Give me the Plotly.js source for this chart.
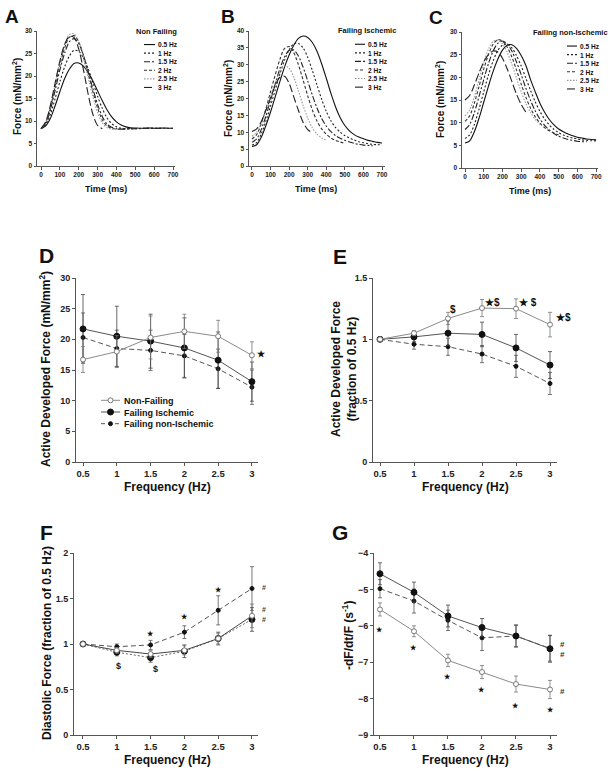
<!DOCTYPE html>
<html><head><meta charset="utf-8">
<script src="https://cdn.plot.ly/plotly-3.0.1.min.js"></script>
<style>html,body{margin:0;padding:0;background:#fff}#chart{width:615px;height:771px}</style>
</head><body><div id="chart"></div>
<script>
// ---------- data ----------
const TIME = [0,25,50,75,100,125,150,175,200,225,250,275,300,325,350,375,400,425,450,475,500,525,550,575,600,625,650,675,700];
const FREQ_LABELS = ['0.5 Hz','1 Hz','1.5 Hz','2 Hz','2.5 Hz','3 Hz'];

// Panel A: Non Failing force traces (mN/mm2)
const A_05 = [8.3,8.9,10.6,13.4,16.5,19.4,21.5,22.8,22.9,22.2,20.8,18.9,16.7,14.5,12.5,10.9,9.8,9.1,8.7,8.5,8.45,8.4,8.4,8.45,8.4,8.4,8.45,8.4,8.4];
const A_1  = [8.3,9.1,11.5,15.0,18.7,22.0,24.4,25.7,25.5,24.0,21.6,18.6,15.5,12.8,10.7,9.4,8.7,8.4,8.3,8.3,8.3,8.35,8.4,8.4,8.4,8.4,8.4,8.4,8.4];
const A_15 = [8.3,9.4,12.5,16.8,21.3,25.0,27.6,28.3,27.2,24.6,21.0,17.2,13.7,11.0,9.3,8.6,8.3,8.2,8.2,8.3,8.3,8.3,8.4,8.4,8.4,8.4,8.4];
const A_2  = [8.3,9.6,13.0,17.6,22.3,26.2,28.6,29.0,27.6,24.6,20.6,16.5,12.9,10.3,8.9,8.4,8.2,8.2,8.3,8.3,8.35];
const A_25 = [8.3,9.8,13.4,18.2,23.0,27.0,29.2,29.4,27.6,24.0,19.6,15.4,11.9,9.6,8.5,8.2,8.3];
const A_3  = [8.3,9.8,13.5,18.5,23.3,27.0,28.8,28.6,26.0,21.4,16.0,11.5,9.0,8.3];

// Panel B: Failing Ischemic
const B_05 = [5.8,6.3,8.5,12.0,16.0,20.5,25.0,29.3,32.9,35.8,37.8,38.5,38.1,36.6,34.0,30.3,26.0,21.5,17.5,14.3,12.0,10.4,9.3,8.6,8.1,7.6,7.3,7.0,6.8];
const B_1  = [6.2,6.9,9.5,13.3,17.8,22.5,27.2,31.3,34.4,36.2,36.3,35.0,32.2,28.3,24.0,19.8,16.2,13.4,11.4,10.0,9.0,8.3,7.7,7.2,6.9,6.6,6.4,6.3,6.3];
const B_15 = [7.0,8.0,10.8,14.8,19.5,24.3,28.8,32.3,34.3,34.4,32.6,29.3,25.2,21.0,17.2,14.1,11.8,10.2,9.0,8.2,7.6,7.1,6.7,6.4,6.2,6.1,6.0];
const B_2  = [8.0,9.3,12.5,17.0,22.0,27.0,31.5,34.8,35.4,33.6,30.0,25.5,20.8,16.6,13.3,11.0,9.4,8.3,7.6,7.1,6.7];
const B_25 = [8.8,10.0,12.8,16.5,20.5,24.5,27.8,29.7,29.0,26.3,22.3,18.0,14.2,11.3,9.5,8.3,7.6];
const B_3  = [10.2,11.0,13.2,16.5,20.2,23.8,26.3,26.6,24.5,20.5,16.5,13.0,10.8,9.8];

// Panel C: Failing non-Ischemic
const C_05 = [5.5,6.0,8.0,11.0,14.5,18.0,21.3,24.0,26.0,27.1,27.2,26.4,24.8,22.6,19.5,16.8,14.3,12.3,10.7,9.5,8.6,8.0,7.5,7.1,6.8,6.6,6.4,6.3,6.2];
const C_1  = [6.5,7.3,9.6,13.0,16.8,20.5,23.6,25.9,27.1,27.3,26.5,24.8,22.5,19.8,17.1,14.6,12.5,10.8,9.5,8.5,7.8,7.3,6.9,6.6,6.4,6.2,6.1,6.0,6.0];
const C_15 = [8.5,9.6,12.2,15.8,19.5,23.0,25.8,27.5,28.0,27.4,25.8,23.4,20.6,17.6,14.9,12.6,10.8,9.4,8.4,7.6,7.0,6.6,6.3,6.1,5.9,5.8,5.8];
const C_2  = [10.3,11.5,14.3,18.0,21.8,25.0,27.3,28.3,28.0,26.7,24.5,21.6,18.5,15.6,13.2,11.3,9.9,8.9,8.2,7.7,7.3];
const C_25 = [11.5,12.8,15.7,19.5,23.2,26.2,27.9,28.2,27.4,25.6,22.9,19.8,16.8,14.2,12.2,10.7,9.6];
const C_3  = [15.0,16.0,18.3,21.0,23.4,25.0,25.8,25.6,24.2,21.9,19.1,16.3,14.0,12.3];

// Frequency panels
const FREQ = [0.5,1,1.5,2,2.5,3];
const FREQ_TICKS = ['0.5','1','1.5','2','2.5','3'];
const GROUPS = ['Non-Failing','Failing Ischemic','Failing non-Ischemic'];

// D: Active developed force (mN/mm2)
const D_NF = [16.7,18.0,20.3,21.3,20.5,17.4];
const D_NF_ERR = [2.1,2.6,3.5,2.8,2.6,2.2];
const D_FI = [21.7,20.5,19.7,18.6,16.6,13.1];
const D_FI_ERR = [5.6,4.9,4.4,4.9,4.6,3.2];
const D_FNI = [20.3,18.5,18.2,17.3,15.2,12.2];
const D_FNI_ERR = [4.0,3.0,3.3,3.5,3.2,2.8];

// E: Active developed force (fraction of 0.5 Hz)
const E_NF = [1.0,1.05,1.17,1.255,1.25,1.12];
const E_NF_ERR = [0,0.02,0.05,0.07,0.08,0.1];
const E_FI = [1.0,1.02,1.05,1.04,0.93,0.79];
const E_FI_ERR = [0,0.04,0.1,0.1,0.11,0.11];
const E_FNI = [1.0,0.96,0.94,0.88,0.78,0.64];
const E_FNI_ERR = [0,0.04,0.07,0.07,0.09,0.09];

// F: Diastolic force (fraction of 0.5 Hz)
const F_NF = [1.0,0.93,0.89,0.93,1.06,1.31];
const F_NF_ERR = [0,0.03,0.04,0.05,0.06,0.13];
const F_FI = [1.0,0.91,0.85,0.92,1.06,1.27];
const F_FI_ERR = [0,0.04,0.05,0.07,0.07,0.13];
const F_FNI = [1.0,0.97,0.99,1.13,1.37,1.61];
const F_FNI_ERR = [0,0.03,0.05,0.07,0.16,0.24];

// G: -dF/dt/F (s^-1)
const G_NF = [-5.55,-6.15,-6.95,-7.27,-7.6,-7.75];
const G_NF_ERR = [0.18,0.15,0.17,0.18,0.22,0.25];
const G_FI = [-4.57,-5.08,-5.73,-6.05,-6.28,-6.63];
const G_FI_ERR = [0.3,0.28,0.3,0.25,0.3,0.37];
const G_FNI = [-4.98,-5.32,-5.85,-6.33,-6.28,-6.62];
const G_FNI_ERR = [0.25,0.33,0.28,0.35,0.3,0.35];

// ---------- styling ----------
const FONT = 'Liberation Sans, Arial, Helvetica, sans-serif';
const W = 615, H = 771;
const px = v => v / W;
const py = v => 1 - v / H;

const TRACE_STYLE = [
  {color:'#111', dash:'solid'},
  {color:'#222', dash:'2px,2px'},
  {color:'#222', dash:'6px,2px,2px,2px'},
  {color:'#333', dash:'3px,2px'},
  {color:'#999', dash:'1.5px,1.5px'},
  {color:'#222', dash:'8px,3px'}
];

const traces = [];
function addForcePanel(sets, k) {
  sets.forEach((vals, i) => {
    traces.push({
      x: TIME.slice(0, vals.length), y: vals, mode:'lines', name: FREQ_LABELS[i],
      line:{shape:'spline', smoothing:0.8, width:1.1, color:TRACE_STYLE[i].color, dash:TRACE_STYLE[i].dash},
      xaxis:'x'+(k===1?'':k), yaxis:'y'+(k===1?'':k), hoverinfo:'skip'
    });
  });
}
addForcePanel([A_05,A_1,A_15,A_2,A_25,A_3], 1);
addForcePanel([B_05,B_1,B_15,B_2,B_25,B_3], 2);
addForcePanel([C_05,C_1,C_15,C_2,C_25,C_3], 3);

function grp(y, err, k, style) {
  traces.push({
    x: FREQ, y: y, mode:'lines+markers', xaxis:'x'+k, yaxis:'y'+k, hoverinfo:'skip',
    error_y:{type:'data', array:err, visible:true, thickness:0.8, width:2, color:style.ecolor||'#666'},
    line:{color:style.lcolor, width:1, dash:style.dash||'solid'},
    marker:{symbol:style.symbol, size:style.size, color:style.mcolor, line:{color:style.mline||style.mcolor, width:1}}
  });
}
const S_NF  = {lcolor:'#8a8a8a', symbol:'circle', size:5, mcolor:'#ffffff', mline:'#777', ecolor:'#777'};
const S_FI  = {lcolor:'#555', symbol:'circle', size:6, mcolor:'#111', ecolor:'#444'};
const S_FNI = {lcolor:'#555', symbol:'circle', size:4, mcolor:'#111', dash:'5px,3px', ecolor:'#555'};

grp(D_FNI, D_FNI_ERR, 4, S_FNI); grp(D_FI, D_FI_ERR, 4, S_FI); grp(D_NF, D_NF_ERR, 4, S_NF);
grp(E_FNI, E_FNI_ERR, 5, S_FNI); grp(E_FI, E_FI_ERR, 5, S_FI); grp(E_NF, E_NF_ERR, 5, S_NF);
grp(F_FNI, F_FNI_ERR, 6, S_FNI); grp(F_FI, F_FI_ERR, 6, Object.assign({}, S_FI, {dash:'2px,2px', lcolor:'#666'})); grp(F_NF, F_NF_ERR, 6, Object.assign({}, S_NF, {lcolor:'#444'}));
grp(G_FNI, G_FNI_ERR, 7, S_FNI); grp(G_FI, G_FI_ERR, 7, S_FI); grp(G_NF, G_NF_ERR, 7, S_NF);

// ---------- axes ----------
function xax(dom, range, anchor, opts) {
  return Object.assign({
    domain:[px(dom[0]), px(dom[1])], range:range, anchor:anchor,
    showline:true, linecolor:'#555', linewidth:1, ticks:'outside', ticklen:2.5, tickwidth:1, tickcolor:'#555',
    showgrid:false, zeroline:false, fixedrange:true,
    tickfont:{family:FONT, size:6.5, color:'#222', weight:'bold'}
  }, opts);
}
function yax(dom, range, anchor, opts) {
  return Object.assign({
    domain:[py(dom[0]), py(dom[1])], range:range, anchor:anchor,
    showline:true, linecolor:'#555', linewidth:1, ticks:'outside', ticklen:2.5, tickwidth:1, tickcolor:'#555',
    showgrid:false, zeroline:false, fixedrange:true,
    tickfont:{family:FONT, size:6.5, color:'#222', weight:'bold'}
  }, opts);
}
const topX = {tick0:0, dtick:100};
const lowX = {tickvals:FREQ, ticktext:FREQ_TICKS, tickfont:{family:FONT, size:9.5, color:'#222', weight:'bold'}};
const lowYf = {family:FONT, size:9, color:'#222', weight:'bold'};

const layout = {
  width:W, height:H, margin:{l:0,r:0,t:0,b:0}, paper_bgcolor:'#fff', plot_bgcolor:'rgba(0,0,0,0)',
  showlegend:false, font:{family:FONT},
  xaxis:  xax([37,175],  [-21.2,710.6], 'y', topX),
  yaxis:  yax([166,31],  [0,30], 'x', {tick0:0, dtick:5}),
  xaxis2: xax([249,385], [-16,716], 'y2', topX),
  yaxis2: yax([166,31],  [0,40], 'x2', {tick0:0, dtick:5}),
  xaxis3: xax([462,598], [-16,710], 'y3', topX),
  yaxis3: yax([168,32],  [0,30], 'x3', {tick0:0, dtick:5}),
  xaxis4: xax([76,258],  [0.396,3.09], 'y4', lowX),
  yaxis4: yax([462,278], [0,30], 'x4', {tick0:0, dtick:5, tickfont:lowYf, ticklen:3}),
  xaxis5: xax([373,557], [0.397,3.103], 'y5', lowX),
  yaxis5: yax([462,278], [0,1.5], 'x5', {tickvals:[0,0.5,1,1.5], ticktext:['0','0.5','1','1.5'], tickfont:lowYf, ticklen:3}),
  xaxis6: xax([74,258],  [0.367,3.089], 'y6', lowX),
  yaxis6: yax([735,553], [0,2], 'x6', {tickvals:[0,0.5,1,1.5,2], ticktext:['0','0.5','1','1.5','2'], tickfont:lowYf, ticklen:3}),
  xaxis7: xax([374,557], [0.412,3.103], 'y7', lowX),
  yaxis7: yax([735,553], [-9,-4], 'x7', {tick0:-9, dtick:1, tickfont:lowYf, ticklen:3}),
  annotations:[], shapes:[]
};

const A = layout.annotations, SH = layout.shapes;
function txt(x, y, text, size, opts) {
  A.push(Object.assign({xref:'paper', yref:'paper', x:px(x), y:py(y), text:text, showarrow:false,
    font:{family:FONT, size:size, color:'#111', weight:'bold'}, xanchor:'center', yanchor:'middle'}, opts||{}));
}
// panel letters
txt(12,16,'A',19); txt(228,16,'B',19); txt(436,17,'C',19);
txt(47,256,'D',21); txt(340,257,'E',21); txt(47,532,'F',21); txt(340,532,'G',21);

// top axis titles
txt(17,97,'Force (mN/mm<sup>2</sup>)',10,{textangle:-90});
txt(228,99,'Force (mN/mm<sup>2</sup>)',10,{textangle:-90});
txt(440,100,'Force (mN/mm<sup>2</sup>)',10,{textangle:-90});
txt(106,189,'Time (ms)',9); txt(316,189,'Time (ms)',9); txt(530,191,'Time (ms)',9);

// lower axis titles
txt(167,487,'Frequency (Hz)',12); txt(465,487,'Frequency (Hz)',12);
txt(167,760,'Frequency (Hz)',12); txt(465,760,'Frequency (Hz)',12);
txt(45,369,'Active Developed Force (mN/mm<sup>2</sup>)',12,{textangle:-90});
txt(344,369,'Active Developed Force<br>(fraction of 0.5 Hz)',12,{textangle:-90});
txt(47,643,'Diastolic Force (fraction of 0.5 Hz)',12,{textangle:-90});
txt(348,635,'-dF/dt/F (s<sup>-1</sup>)',12,{textangle:-90});

// small legends for force traces (one multi-line text block per legend)
const LEG_FS = 6.6, LEG_STEP = LEG_FS * 1.3;
function miniLegend(title, tx, ty, lx0, lx1, mid) {
  txt(tx, ty, title, 7.5);
  FREQ_LABELS.forEach((lab, i) => {
    const ry = mid + (i - 2.5) * LEG_STEP;
    SH.push({type:'line', xref:'paper', yref:'paper', x0:px(lx0), x1:px(lx1), y0:py(ry), y1:py(ry),
      line:{color:TRACE_STYLE[i].color, width:1.1, dash:TRACE_STYLE[i].dash}});
  });
  txt(lx1+1, mid, FREQ_LABELS.join('<br>'), LEG_FS, {xanchor:'left', align:'left'});
}
miniLegend('Non Failing', 156, 32, 144, 155, 66);
miniLegend('Failing Ischemic', 367, 31, 355, 365, 65.7);
miniLegend('Failing non-Ischemic', 570, 33, 567, 577, 67.5);

// legend of panel D
const DLEG_FS = 9, DLEG_STEP = DLEG_FS * 1.3, DLEG_MID = 412;
const LEG = [
  {line:'#8a8a8a', dash:'solid', fill:'#fff', mline:'#777', r:2.5},
  {line:'#555', dash:'solid', fill:'#111', mline:'#111', r:3},
  {line:'#555', dash:'4px,3px', fill:'#111', mline:'#111', r:2}
];
LEG.forEach((l, i) => {
  const ry = DLEG_MID + (i - 1) * DLEG_STEP;
  SH.push({type:'line', xref:'paper', yref:'paper', x0:px(101), x1:px(120), y0:py(ry), y1:py(ry), line:{color:l.line, width:1, dash:l.dash}});
  SH.push({type:'circle', xref:'paper', yref:'paper', x0:px(110.5-l.r), x1:px(110.5+l.r), y0:py(ry+l.r), y1:py(ry-l.r), fillcolor:l.fill, line:{color:l.mline, width:1}});
});
txt(122, DLEG_MID, GROUPS.join('<br>'), DLEG_FS, {xanchor:'left', align:'left'});

// significance marks
function mark(k, x, y, text, size, xshift, color) {
  A.push({xref:'x'+k, yref:'y'+k, x:x, y:y, text:text, showarrow:false, xshift:xshift||0,
    font:{family:FONT, size:size, color:color||'#111', weight:'bold'}, xanchor:'center', yanchor:'middle'});
}
mark(4, 3, 17.6, '★', 9, 10);
mark(5, 1.5, 1.24, '$', 10, 5);
mark(5, 2, 1.30, '★$', 10, 11);
mark(5, 2.5, 1.30, '★ $', 10, 12);
mark(5, 3, 1.18, '★$', 10, 13);
mark(6, 1, 0.76, '$', 9, 2);
mark(6, 1.5, 0.73, '$', 9, 5);
mark(6, 1.5, 1.11, '★', 7, 0);
mark(6, 2, 1.30, '★', 7, 0);
mark(6, 2.5, 1.60, '★', 7, 0);
mark(6, 3, 1.62, '#', 7, 12, '#444');
mark(6, 3, 1.38, '#', 7, 12, '#444');
mark(6, 3, 1.265, '#', 7, 12, '#444');
[[0.5,-6.1],[1,-6.6],[1.5,-7.4],[2,-7.75],[2.5,-8.2],[3,-8.3]].forEach(p => mark(7, p[0], p[1], '★', 7, 0));
mark(7, 3, -6.5, '#', 8, 12, '#333');
mark(7, 3, -6.8, '#', 8, 12, '#333');
mark(7, 3, -7.8, '#', 8, 12, '#333');

Plotly.newPlot('chart', traces, layout, {staticPlot:true, displayModeBar:false});
</script>
</body></html>
